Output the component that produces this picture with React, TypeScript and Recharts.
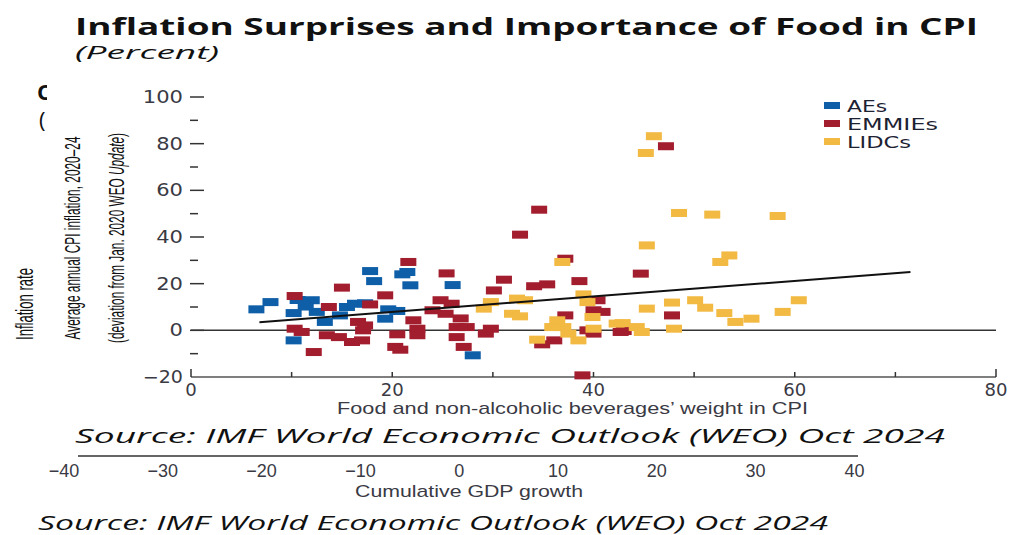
import { ScatterChart, Scatter, XAxis, YAxis, ReferenceLine, Legend } from 'recharts';

// [food weight in CPI, inflation surprise] per country group
const aesPoints = [
  [6.5, 9], [7.9, 12.1], [10.6, 13], [12, 12.9], [10.2, 7.4], [12.5, 7.9], [13.3, 3.6],
  [10.2, -4.3], [14.8, 6.4], [15.5, 10], [16.3, 11.4], [17.3, 11.6], [17.8, 25.4],
  [18.2, 21.1], [21, 24], [21.5, 25], [21.8, 19.3], [19.6, 9], [20.5, 8.3], [19.3, 5],
  [26, 19.4], [28, -10.7], [11.4, 10.2],
];

const emmiesPoints = [
  [10.3, 14.7], [15, 18.3], [13.7, 10], [10.3, 0.7], [11, -0.7], [13.5, -2.1], [14.7, -2.9],
  [16, -5], [16.6, 3.6], [17.1, 0], [12.2, -9.3], [17, -4.3], [21.6, 29.3], [25.4, 24.4],
  [19.3, 15], [17.8, 11.1], [24.8, 12.9], [25.9, 11.4], [24, 8.6], [25.3, 7.1], [26.8, 5.1],
  [22.1, 4.3], [22.5, 0.7], [22.5, -2.1], [26.4, 1.4], [27.4, 1.4], [20.5, -1.7], [26.4, -2.9],
  [27.1, -7.1], [20.3, -7.1], [20.8, -8.3], [17.3, 2.1], [34.6, 51.7], [32.7, 41], [37.2, 30.7],
  [31.1, 21.7], [30.1, 17.1], [34.1, 18.9], [35.4, 19.7], [38.6, 21.1], [40.4, 12.9], [40, 8.6],
  [37.2, 6.4], [29.8, 0.7], [29.3, -1.4], [36.1, -4.3], [34.9, -6], [39.4, 0], [40, -1.4],
  [38.9, -19.3], [42.7, -0.7], [47.2, 78.9], [44.7, 24.3], [47.8, 6.4], [43, -0.3], [40.9, 7.9],
];

const lidcsPoints = [
  [36.9, 29.3], [32.4, 13.6], [33.2, 12.9], [29.8, 12.1], [29.1, 9.3], [31.9, 7.1], [32.7, 6],
  [39, 15.4], [39.4, 12.1], [39.9, 5.7], [36.4, 4.3], [37, 1.4], [37.5, -1.4], [38.5, -4.3],
  [34.4, -4], [40, 0.7], [42.3, 2.9], [35.9, 1.4], [46, 83.2], [45.2, 76], [48.5, 50.3],
  [51.8, 49.6], [58.3, 49], [45.3, 36.4], [53.5, 32.1], [52.6, 29.3], [45.3, 9.3], [47.8, 11.9],
  [50.1, 12.9], [51.1, 9.7], [53, 7.4], [54.1, 3.6], [55.7, 5], [58.8, 7.9], [60.4, 12.9],
  [48, 0.7], [42.9, 3.1], [44.3, 1.4], [44.8, -0.7],
];

// fitted line end points
const fitLine = [[6.8, 3.5], [71.5, 25]];

const xTicks = [0, 10, 20, 30, 40, 50, 60, 70, 80];
const yTicks = [-20, -10, 0, 10, 20, 30, 40, 50, 60, 70, 80, 90, 100];
const gdpTickLabels = ['−40', '−30', '−20', '−10', '0', '10', '20', '30', '40'];

const groups = [
  { name: 'AEs', color: '#0f5ea8', data: aesPoints, legendLen: 40 },
  { name: 'EMMIEs', color: '#a21d2e', data: emmiesPoints, legendLen: 91 },
  { name: 'LIDCs', color: '#f2b943', data: lidcsPoints, legendLen: 64 },
];

const toPts = (arr: number[][]) => arr.map(([x, y]) => ({ x, y }));
const fmt = (v: number) => (v < 0 ? '−' + Math.abs(v) : String(v));

const TICK = '#333';
const LABEL = '#3a3a44';

function LeftTick(props: any) {
  const { x, y, payload } = props;
  const v = payload.value;
  const major = v % 20 === 0;
  const ax = x + 8;
  const s = fmt(v);
  return (
    <g>
      {v !== -20 && (
        <line x1={ax - 1} x2={ax - 1 + (major ? 14 : 8)} y1={y} y2={y} stroke={TICK} strokeWidth={1.5} />
      )}
      {major && (
        <text x={x} y={y} dy="0.36em" textAnchor="end" fontFamily="DejaVu Sans" fontSize={17}
          fill={LABEL} textLength={s.length * 13.4} lengthAdjust="spacingAndGlyphs">{s}</text>
      )}
    </g>
  );
}

function RightTick(props: any) {
  const { x, y, payload } = props;
  const v = payload.value;
  if (v === -20) return <g />;
  const len = v % 20 === 0 ? 15 : 8;
  return <line x1={x - len} x2={x} y1={y} y2={y} stroke={TICK} strokeWidth={1.5} />;
}

function BottomTick(props: any) {
  const { x, y, payload } = props;
  const v = payload.value;
  const end = v === 0 || v === 80;
  return (
    <g>
      <line x1={x} x2={x} y1={y} y2={y - (end ? 8 : 5)} stroke={TICK} strokeWidth={1.5} />
      {v % 20 === 0 && (
        <text x={x} y={y + 19} textAnchor="middle" fontFamily="DejaVu Sans" fontSize={17} fill={LABEL}
          textLength={String(v).length * 11.5} lengthAdjust="spacingAndGlyphs">{v}</text>
      )}
    </g>
  );
}

const renderLegend = () => (
  <svg width={140} height={60} style={{ display: 'block' }}>
    {groups.map((g, i) => (
      <g key={g.name}>
        <rect x={4} y={7 + i * 18} width={16} height={7} fill={g.color} />
        <text x={27} y={17 + i * 18} fontFamily="DejaVu Sans" fontSize={16} fill="#1d2233"
          textLength={g.legendLen} lengthAdjust="spacingAndGlyphs">{g.name}</text>
      </g>
    ))}
  </svg>
);

const Bar = (color: string) => (p: any) => (
  <rect x={p.cx - 8} y={p.cy - 4} width={16} height={8} fill={color} />
);

export default function App() {
  return (
    <div style={{ position: 'absolute', left: 0, top: 0, width: 1011, height: 535, background: '#fff' }}>
      <ScatterChart width={1011} height={535} margin={{ top: 97, right: 0, bottom: 128, left: 0 }}>
        <XAxis type="number" dataKey="x" domain={[0, 80]} ticks={xTicks} height={30}
          tickSize={0} tickMargin={0} tick={<BottomTick />} axisLine={{ stroke: '#555', strokeWidth: 1.5 }}
          tickLine={false} interval={0} />
        <YAxis type="number" dataKey="y" domain={[-20, 100]} ticks={yTicks} width={191}
          tickSize={0} tickMargin={8} tick={<LeftTick />} axisLine={false} tickLine={false} interval={0} />
        <YAxis yAxisId="r" orientation="right" type="number" domain={[-20, 100]} ticks={yTicks} width={15}
          tickSize={0} tickMargin={0} tick={<RightTick />} axisLine={false} tickLine={false} interval={0} />
        <ReferenceLine y={0} stroke="#333" strokeWidth={1.5} />
        {groups.map((g) => (
          <Scatter key={g.name} name={g.name} data={toPts(g.data)} fill={g.color}
            shape={Bar(g.color)} isAnimationActive={false} />
        ))}
        <Scatter data={toPts(fitLine)} line={{ stroke: '#111', strokeWidth: 2 }} shape={() => <g />}
          legendType="none" isAnimationActive={false} />
        <Legend content={renderLegend} layout="vertical" align="center" verticalAlign="middle"
          wrapperStyle={{ position: 'absolute', left: 820, top: 95, width: 140 }} />
      </ScatterChart>
      <svg width={1011} height={535} style={{ position: 'absolute', left: 0, top: 0, pointerEvents: 'none' }}>
        <defs>
          <clipPath id="cut"><rect x={0} y={0} width={47} height={535} /></clipPath>
        </defs>
        <text x={75} y={35} fontFamily="Open Sans" fontWeight={700} fontSize={23} fill="#111"
          textLength={903} lengthAdjust="spacingAndGlyphs">Inflation Surprises and Importance of Food in CPI</text>
        <text x={75} y={59} fontFamily="Open Sans" fontStyle="italic" fontSize={18} fill="#111"
          textLength={144} lengthAdjust="spacingAndGlyphs">(Percent)</text>
        <g clipPath="url(#cut)">
          <text x={37} y={100} fontFamily="Open Sans" fontWeight={700} fontSize={22} fill="#111">C</text>
          <text x={39} y={128} fontFamily="Open Sans" fontSize={22} fill="#111">(</text>
        </g>
        <text transform="translate(33,304) rotate(-90)" textAnchor="middle" fontFamily="Liberation Sans" fontSize={23}
          fill="#111" textLength={72} lengthAdjust="spacingAndGlyphs">Inflation rate</text>
        <text transform="translate(80,238) rotate(-90)" textAnchor="middle" fontFamily="Liberation Sans" fontSize={22}
          fill="#111" textLength={203} lengthAdjust="spacingAndGlyphs">Average annual CPI inflation, 2020–24</text>
        <text transform="translate(124,238) rotate(-90)" textAnchor="middle" fontFamily="Liberation Sans" fontSize={22}
          fill="#111" textLength={210} lengthAdjust="spacingAndGlyphs">
          (deviation from Jan. 2020 WEO <tspan fontStyle="italic">Update</tspan>)
        </text>
        <text x={337} y={414} fontFamily="Liberation Sans" fontSize={17} fill={LABEL}
          textLength={471} lengthAdjust="spacingAndGlyphs">Food and non-alcoholic beverages’ weight in CPI</text>
        <text x={75} y={443} fontFamily="Open Sans" fontStyle="italic" fontSize={20} fill="#111"
          textLength={870} lengthAdjust="spacingAndGlyphs">Source: IMF World Economic Outlook (WEO) Oct 2024</text>
        <line x1={78} x2={858} y1={456} y2={456} stroke="#333" strokeWidth={1.5} />
        {gdpTickLabels.map((t, i) => (
          <text key={t} x={64 + i * 98.8} y={477} textAnchor="middle" fontFamily="Liberation Sans" fontSize={18}
            fill={LABEL}>{t}</text>
        ))}
        <text x={355} y={497} fontFamily="Liberation Sans" fontSize={17} fill={LABEL}
          textLength={228} lengthAdjust="spacingAndGlyphs">Cumulative GDP growth</text>
        <text x={38} y={530} fontFamily="Open Sans" fontStyle="italic" fontSize={20} fill="#111"
          textLength={790} lengthAdjust="spacingAndGlyphs">Source: IMF World Economic Outlook (WEO) Oct 2024</text>
      </svg>
    </div>
  );
}
